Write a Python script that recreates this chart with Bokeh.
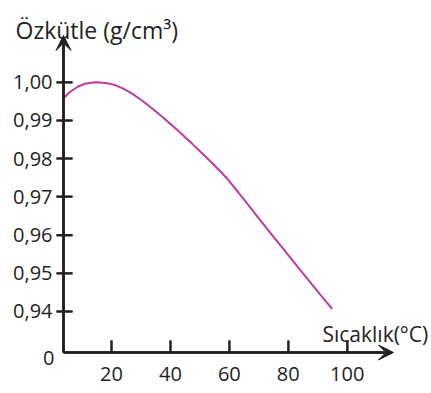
import math
from bokeh.plotting import figure
from bokeh.models import (Range1d, FixedTicker, CustomJSTickFormatter, Arrow,
                          VeeHead, Label)
from bokeh.embed import file_html
from bokeh.resources import INLINE

# ---- data ----
temps = [3.8, 6.0, 8.5, 11.0, 14.6, 18.0, 21.0, 24.0, 27.0, 30.0, 33.5, 37.0, 40.5,
         44.0, 47.5, 51.0, 55.0, 59.0, 63.0, 67.0, 71.0, 75.0, 79.0, 83.0, 87.0, 91.0, 94.9]
dens = [0.9959, 0.9975, 0.9988, 0.9996, 1.0000, 0.9998, 0.9993, 0.9983, 0.9970, 0.9954,
        0.9933, 0.9911, 0.9887, 0.9863, 0.9838, 0.9812, 0.9782, 0.9750, 0.9712, 0.9673,
        0.9634, 0.9595, 0.9557, 0.9519, 0.9481, 0.9443, 0.9407]
y_ticks = [0.94, 0.95, 0.96, 0.97, 0.98, 0.99, 1.00]
x_ticks = [20, 40, 60, 80, 100]
y_title = "Özkütle (g/cm³)"
x_title = "Sıcaklık(°C)"
origin_label = "0"

FONT = "Open Sans"
INK = "#231f20"
CURVE = "#bf3a9b"

# view window (whole figure is the plotting frame)
x0, x1 = -17.69, 128.62
y0, y1 = 0.918545, 1.021371
# where the two axes cross and where their arrows end
ax_x, ax_y = 3.70, 0.929273
x_tip, y_tip = 115.7, 1.01221

p = figure(width=431, height=393, output_backend="svg", toolbar_location=None,
           x_range=Range1d(x0, x1), y_range=Range1d(y0, y1),
           min_border=0)
p.outline_line_color = None
p.xgrid.visible = False
p.ygrid.visible = False

# axes (labels placed by the library's axes)
p.yaxis.fixed_location = ax_x
p.yaxis.bounds = (ax_y, y_tip - 0.002)
p.yaxis.ticker = FixedTicker(ticks=y_ticks, minor_ticks=[])
p.yaxis.formatter = CustomJSTickFormatter(code="return tick.toFixed(2).replace('.', ',');")
p.yaxis.axis_line_color = INK
p.yaxis.axis_line_width = 2.5
p.yaxis.major_tick_out = 7
p.yaxis.major_tick_in = 9
p.yaxis.major_tick_line_width = 2
p.yaxis.major_tick_line_color = INK
p.yaxis.major_label_standoff = 4
p.yaxis.major_label_text_font = FONT
p.yaxis.major_label_text_font_size = "20px"
p.yaxis.major_label_text_color = INK

p.xaxis.fixed_location = ax_y
p.xaxis.bounds = (ax_x, x_tip - 3)
p.xaxis.ticker = FixedTicker(ticks=x_ticks, minor_ticks=[])
p.xaxis.axis_line_color = INK
p.xaxis.axis_line_width = 2.5
p.xaxis.major_tick_out = 0
p.xaxis.major_tick_in = 12
p.xaxis.major_tick_line_width = 2
p.xaxis.major_tick_line_color = INK
p.xaxis.major_label_standoff = 15
p.xaxis.major_label_text_font = FONT
p.xaxis.major_label_text_font_size = "20px"
p.xaxis.major_label_text_color = INK

# tick marks drawn as short screen-length rays at the tick values
n_y = len(y_ticks)
p.ray(x=[ax_x] * n_y, y=y_ticks, length=9, length_units="screen", angle=0,
      line_color=INK, line_width=2)
p.ray(x=[ax_x] * n_y, y=y_ticks, length=7, length_units="screen", angle=math.pi,
      line_color=INK, line_width=2)
p.ray(x=x_ticks, y=[ax_y] * len(x_ticks), length=12, length_units="screen",
      angle=math.pi / 2, line_color=INK, line_width=2)

# axis arrows
p.add_layout(Arrow(x_start=ax_x, y_start=ax_y, x_end=ax_x, y_end=y_tip,
                   line_width=2.5, line_color=INK,
                   end=VeeHead(size=15, fill_color=INK, line_color=INK, line_width=1)))
p.add_layout(Arrow(x_start=ax_x, y_start=ax_y, x_end=x_tip, y_end=ax_y,
                   line_width=2.5, line_color=INK,
                   end=VeeHead(size=15, fill_color=INK, line_color=INK, line_width=1)))

# curve
p.line(temps, dens, line_color=CURVE, line_width=2)

# texts
p.add_layout(Label(x=-12.6, y=1.01378, text=y_title, text_font=FONT,
                   text_font_size="23px", text_color=INK, text_baseline="alphabetic"))
p.add_layout(Label(x=91.6, y=0.93424, text=x_title, text_font=FONT,
                   text_font_size="21px", text_color=INK, text_baseline="alphabetic"))
p.add_layout(Label(x=0.645, y=0.92796, text=origin_label, text_font=FONT,
                   text_font_size="20px", text_color=INK, text_align="right",
                   text_baseline="middle"))

open("out.html", "w").write(file_html(p, INLINE))
